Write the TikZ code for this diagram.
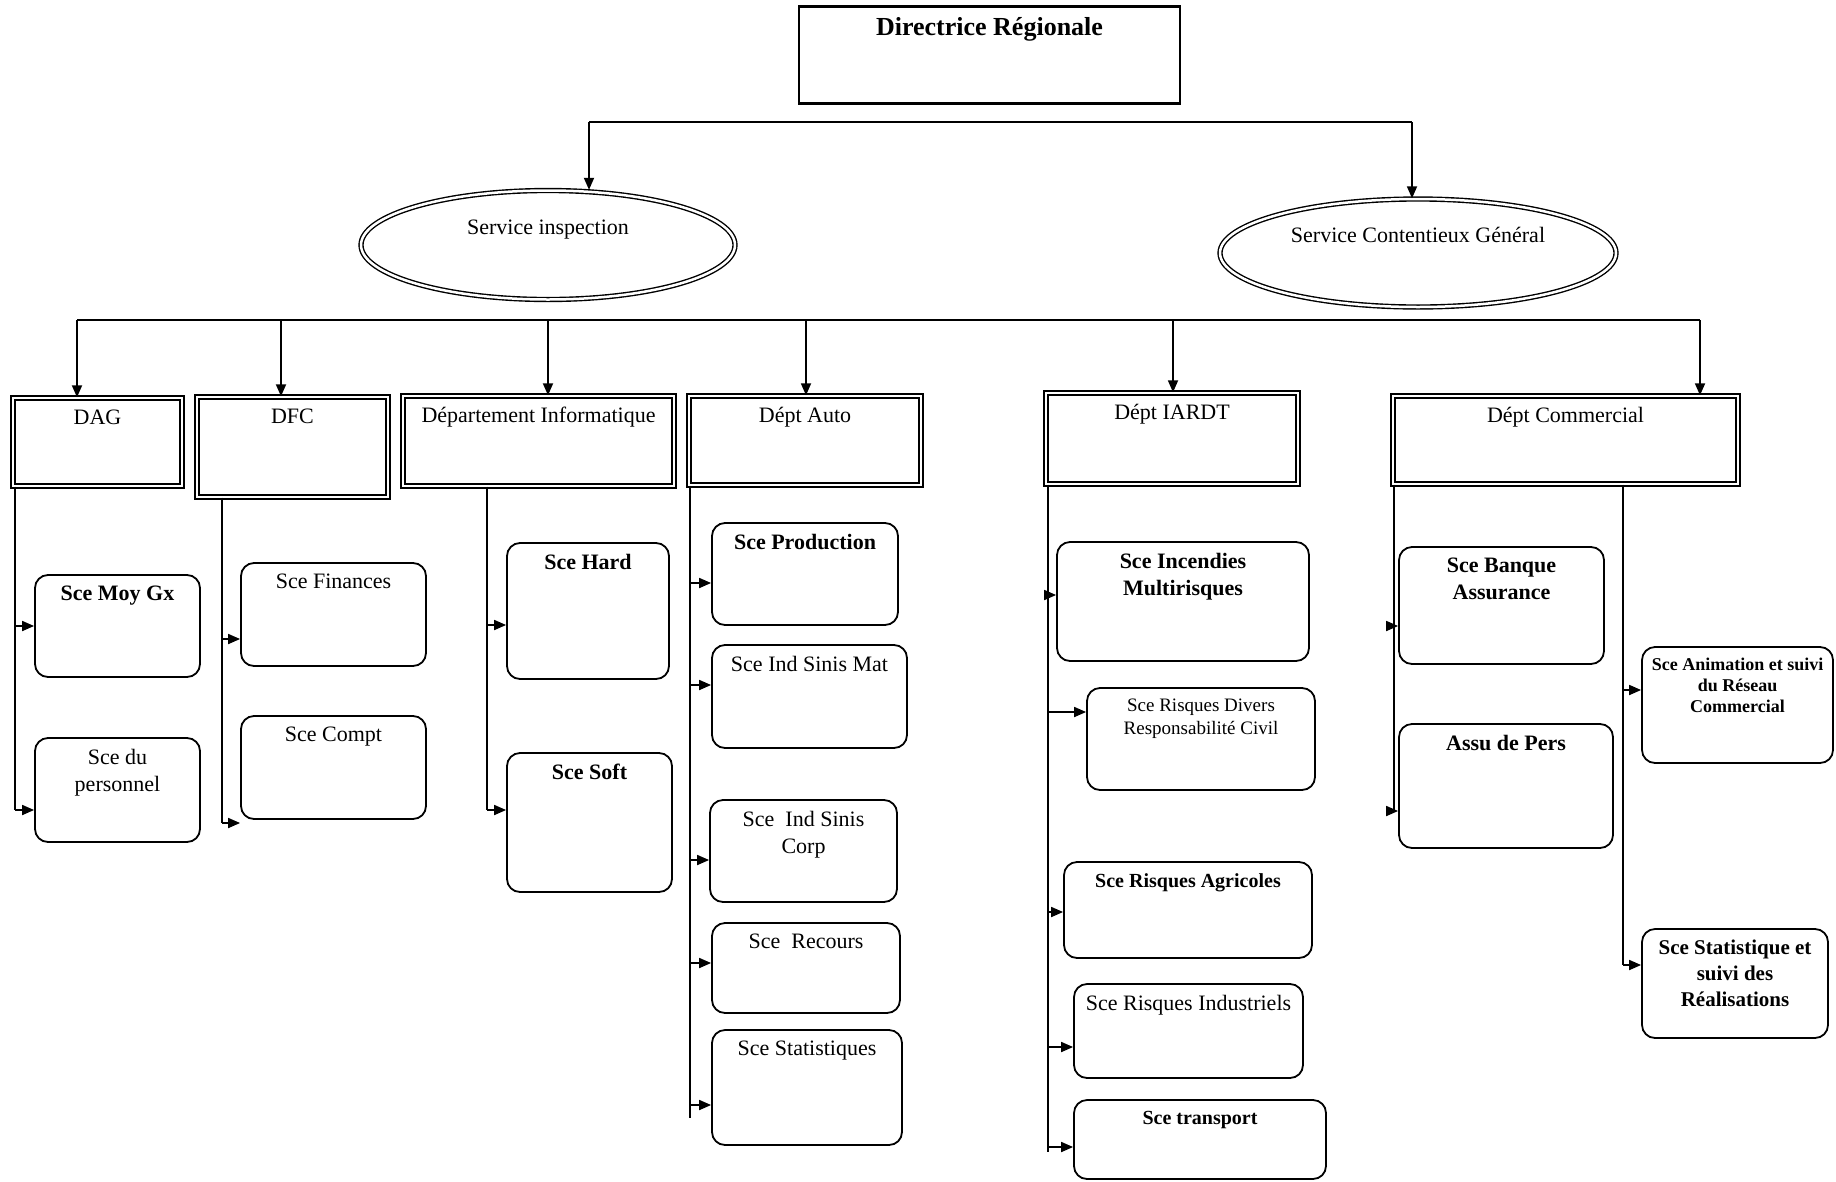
\documentclass[tikz,border=0pt]{standalone}
\usepackage{fontspec}
\setmainfont{Liberation Serif}
\usetikzlibrary{shapes.geometric,arrows.meta,calc}
\newcommand\mkbox[6]{\node[#1,minimum width={#5-#3},minimum height={#6-#4}] (#2) at ({(#3+#5)/2},{(#4+#6)/2}) {};}
\newcommand\mklbl[3]{\node[lbl,#2] (#1-t) at ($(#1.north)+(0,12)$) {#3};}
\newcommand\brarr[3]{\draw[arr] (#1 |- 0,#3) -- (#2.west |- 0,#3);}
\tikzset{
  rbox/.style={draw, line width=1.8pt, rounded corners=13pt, inner sep=0pt},
  dbox/.style={draw, double, double distance=2.5pt, line width=1.4pt, inner sep=0pt},
  lbl/.style={anchor=north, inner sep=0pt, align=center, font=\fontsize{22}{27}\selectfont},
  bl/.style={font=\fontsize{22}{27}\selectfont\bfseries},
  con/.style={line width=1.8pt},
  arr/.style={line width=1.8pt, -{Triangle[length=12pt,width=10pt]}},
}
\begin{document}
\begin{tikzpicture}[x=1pt,y=-1pt]
\fill[white] (0,0) rectangle (1836,1181);
\useasboundingbox (0,0) rectangle (1836,1181);

% top
\mkbox{draw,line width=1.6pt,inner sep=0pt}{dir}{799}{7}{1180}{103}
\draw[line width=3pt] (dir.north west) -- (dir.north east);
\draw[line width=3pt] (dir.south west) -- (dir.south east);
\node[lbl,font=\fontsize{26}{30}\selectfont\bfseries] (dir-t) at ($(dir.north)+(0,11)$) {Directrice Régionale};

% ellipses
\node[ellipse, draw, double, double distance=2.5pt, line width=1.4pt, minimum width=374, minimum height=109, inner sep=0pt] (ins) at (548,245) {};
\node[ellipse, draw, double, double distance=2.5pt, line width=1.4pt, minimum width=396, minimum height=108, inner sep=0pt] (cont) at (1418,253) {};
\node[lbl] (ins-t) at (548,220) {Service inspection};
\node[lbl] (cont-t) at (1418,227) {Service Contentieux Général};

% bar 1
\coordinate (b1L) at (589,122);
\coordinate (b1R) at (1412,122);
\draw[con] (b1L) -- (b1R);
\draw[arr] (b1L) -- (b1L |- ins.north);
\draw[arr] (b1R) -- (b1R |- cont.north);

% level 2
\mkbox{dbox}{dag}{13}{398}{182}{486}
\mkbox{dbox}{dfc}{197}{397}{388}{497}
\mkbox{dbox}{dinf}{403}{396}{674}{486}
\mkbox{dbox}{auto}{689}{396}{921}{485}
\mkbox{dbox}{iardt}{1046}{393}{1298}{484}
\mkbox{dbox}{comm}{1393}{396}{1738}{484}
\mklbl{dag}{}{DAG}
\mklbl{dfc}{}{DFC}
\mklbl{dinf}{}{Département Informatique}
\mklbl{auto}{}{Dépt Auto}
\mklbl{iardt}{}{Dépt IARDT}
\mklbl{comm}{}{Dépt Commercial}

% bar 2
\coordinate (b2a) at (77,320);
\coordinate (b2b) at (281,320);
\coordinate (b2c) at (548,320);
\coordinate (b2d) at (806,320);
\coordinate (b2e) at (1173,320);
\coordinate (b2f) at (1700,320);
\draw[con] (b2a) -- (b2f);
\draw[arr] (b2a) -- (b2a |- dag.north);
\draw[arr] (b2b) -- (b2b |- dfc.north);
\draw[arr] (b2c) -- (b2c |- dinf.north);
\draw[arr] (b2d) -- (b2d |- auto.north);
\draw[arr] (b2e) -- (b2e |- iardt.north);
\draw[arr] (b2f) -- (b2f |- comm.north);

% level 3 boxes
\mkbox{rbox}{moy}{35}{575}{200}{677}
\mkbox{rbox}{pers}{35}{738}{200}{842}
\mkbox{rbox}{fin}{241}{563}{426}{666}
\mkbox{rbox}{compt}{241}{716}{426}{819}
\mkbox{rbox}{hard}{507}{543}{669}{679}
\mkbox{rbox}{soft}{507}{753}{672}{892}
\mkbox{rbox}{prod}{712}{523}{898}{625}
\mkbox{rbox}{mat}{712}{645}{907}{748}
\mkbox{rbox}{corp}{710}{800}{897}{902}
\mkbox{rbox}{rec}{712}{923}{900}{1013}
\mkbox{rbox}{stat}{712}{1030}{902}{1145}
\mkbox{rbox}{inc}{1057}{542}{1309}{661}
\mkbox{rbox}{div}{1087}{688}{1315}{790}
\mkbox{rbox}{agr}{1064}{862}{1312}{958}
\mkbox{rbox}{ind}{1074}{984}{1303}{1078}
\mkbox{rbox}{tra}{1074}{1100}{1326}{1179}
\mkbox{rbox}{ban}{1399}{547}{1604}{664}
\mkbox{rbox}{assu}{1399}{724}{1613}{848}
\mkbox{rbox}{anim}{1642}{647}{1833}{763}
\mkbox{rbox}{sst}{1642}{929}{1828}{1038}

\mklbl{moy}{bl}{Sce Moy Gx}
\mklbl{pers}{}{Sce du\\personnel}
\mklbl{fin}{}{Sce Finances}
\mklbl{compt}{}{Sce Compt}
\mklbl{hard}{bl}{Sce Hard}
\mklbl{soft}{bl}{Sce Soft}
\mklbl{prod}{bl}{Sce Production}
\mklbl{mat}{}{Sce Ind Sinis Mat}
\mklbl{corp}{}{Sce~~Ind Sinis\\Corp}
\mklbl{rec}{}{Sce~~Recours}
\mklbl{stat}{}{Sce Statistiques}
\mklbl{inc}{bl}{Sce Incendies\\Multirisques}
\mklbl{div}{font=\fontsize{19}{23}\selectfont}{Sce Risques Divers\\Responsabilité Civil}
\mklbl{agr}{font=\fontsize{20}{24}\selectfont\bfseries}{Sce Risques Agricoles}
\mklbl{ind}{}{Sce Risques Industriels}
\mklbl{tra}{font=\fontsize{20}{24}\selectfont\bfseries}{Sce transport}
\mklbl{ban}{bl}{Sce Banque\\Assurance}
\mklbl{assu}{bl}{Assu de Pers}
\mklbl{anim}{font=\fontsize{18}{21}\selectfont\bfseries}{Sce Animation et suivi\\du Réseau\\Commercial}
\mklbl{sst}{font=\fontsize{21}{26}\selectfont\bfseries}{Sce Statistique et\\suivi des\\Réalisations}

% trunks
\coordinate (tA) at (dag.south -| 15,0);
\coordinate (tB) at (dfc.south -| 222,0);
\coordinate (tC) at (dinf.south -| 487,0);
\coordinate (tD) at (auto.south -| 690,0);
\coordinate (tE) at (iardt.south -| 1048,0);
\coordinate (tF) at (comm.south -| 1394,0);
\coordinate (tG) at (comm.south -| 1623,0);
\draw[con] (tA) -- (tA |- 0,810);
\draw[con] (tB) -- (tB |- 0,823);
\draw[con] (tC) -- (tC |- 0,810);
\draw[con] (tD) -- (tD |- 0,1118);
\draw[con] (tE) -- (tE |- 0,1152);
\draw[con] (tF) -- (tF |- 0,811);
\draw[con] (tG) -- (tG |- 0,965);

\brarr{tA}{moy}{626}
\brarr{tA}{pers}{810}
\brarr{tB}{fin}{639}
\brarr{tB}{compt}{823}
\brarr{tC}{hard}{625}
\brarr{tC}{soft}{810}
\brarr{tD}{prod}{583}
\brarr{tD}{mat}{685}
\brarr{tD}{corp}{860}
\brarr{tD}{rec}{963}
\brarr{tD}{stat}{1105}
\brarr{tE}{inc}{595}
\brarr{tE}{div}{712}
\brarr{tE}{agr}{912}
\brarr{tE}{ind}{1047}
\brarr{tE}{tra}{1147}
\brarr{tF}{ban}{626}
\brarr{tF}{assu}{811}
\brarr{tG}{anim}{690}
\brarr{tG}{sst}{965}
\end{tikzpicture}
\end{document}
